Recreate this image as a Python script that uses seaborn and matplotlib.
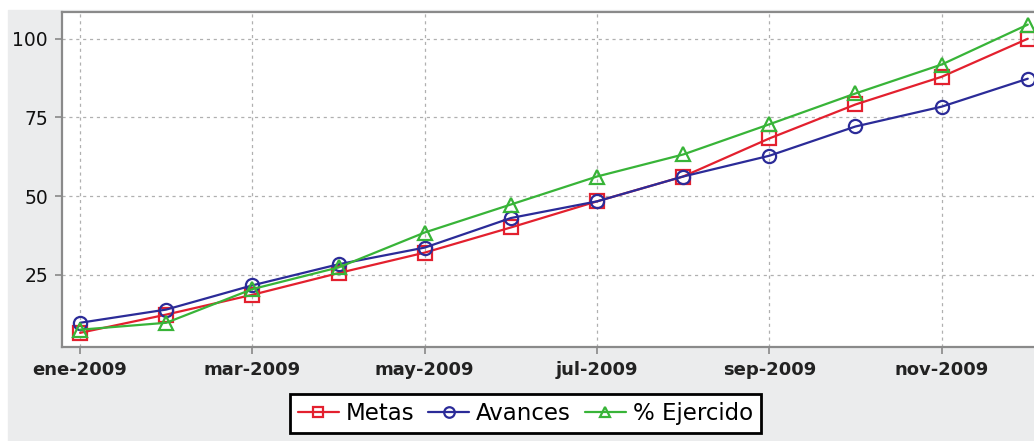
import pandas as pd
import seaborn as sns
import matplotlib.pyplot as plt
from matplotlib.patches import Rectangle

# valores (ene..dic 2009)
meses = ['ene', 'feb', 'mar', 'abr', 'may', 'jun',
         'jul', 'ago', 'sep', 'oct', 'nov', 'dic']
metas = [6.5, 12.3, 18.6, 25.5, 32.0, 40.0, 48.3, 56.2, 68.3, 79.1, 87.9, 100.0]
avances = [9.7, 13.9, 21.6, 28.3, 33.6, 43.0, 48.3, 56.2, 62.8, 72.1, 78.4, 87.3]
ejercido = [7.5, 9.7, 20.4, 27.3, 38.4, 47.3, 56.2, 63.2, 72.8, 82.6, 91.8, 104.5]
tick_labels = ['ene-2009', 'mar-2009', 'may-2009', 'jul-2009', 'sep-2009', 'nov-2009']

series = [
    ('Metas', metas, '#e3202e', 's'),
    ('Avances', avances, '#2b2b98', 'o'),
    ('% Ejercido', ejercido, '#38b438', '^'),
]

sns.set_style('white')
plt.rcParams['font.family'] = ['DejaVu Sans']

fig = plt.figure(figsize=(10.34, 4.41), dpi=100, facecolor='white')
fig.patches.append(Rectangle((8 / 1034, 0), 1, 1 - 10 / 441,
                             transform=fig.transFigure, color='#ebeced', zorder=-10))

ax = fig.add_axes([62 / 1034, 94 / 441, 983 / 1034, 335 / 441])
ax.set_facecolor('white')

x = list(range(len(meses)))
for nombre, vals, color, marker in series:
    df = pd.DataFrame({'mes': x, 'valor': vals})
    sns.lineplot(data=df, x='mes', y='valor', ax=ax, color=color, label=nombre,
                 marker=marker, markersize=9.5, markerfacecolor='none',
                 markeredgecolor=color, markeredgewidth=1.6, linewidth=1.6)

ax.set_xlim(-0.21, 11.2)
ax.set_ylim(2, 108.5)
ax.set_xticks(x[::2])
ax.set_xticklabels(tick_labels, fontsize=13, fontweight='bold', color='#222222')
ax.set_yticks([25, 50, 75, 100])
ax.set_yticklabels(['25', '50', '75', '100'], fontsize=13.5, color='#111111')
ax.set_xlabel('')
ax.set_ylabel('')
ax.grid(True, color='#b0b0b0', linestyle=(0, (2.5, 3)), linewidth=0.9)
ax.tick_params(axis='both', direction='out', bottom=True, left=True,
               length=5, width=1.2, color='#888888', pad=5)
for s in ax.spines.values():
    s.set_color('#8a8a8a')
    s.set_linewidth(1.6)

ax.get_legend().remove()
handles, labels = ax.get_legend_handles_labels()
leg = fig.legend(handles, labels, loc='upper center', bbox_to_anchor=(0.508, 0.107),
                 ncol=3, fontsize=16.5, frameon=True, fancybox=False,
                 handlelength=1.8, handletextpad=0.3, columnspacing=0.6,
                 markerscale=0.8, borderpad=0.35, borderaxespad=0, edgecolor='black',
                 facecolor='white', framealpha=1, labelcolor='black')
leg.get_frame().set_linewidth(2)

plt.savefig('out.png', dpi=100, facecolor=fig.get_facecolor())
